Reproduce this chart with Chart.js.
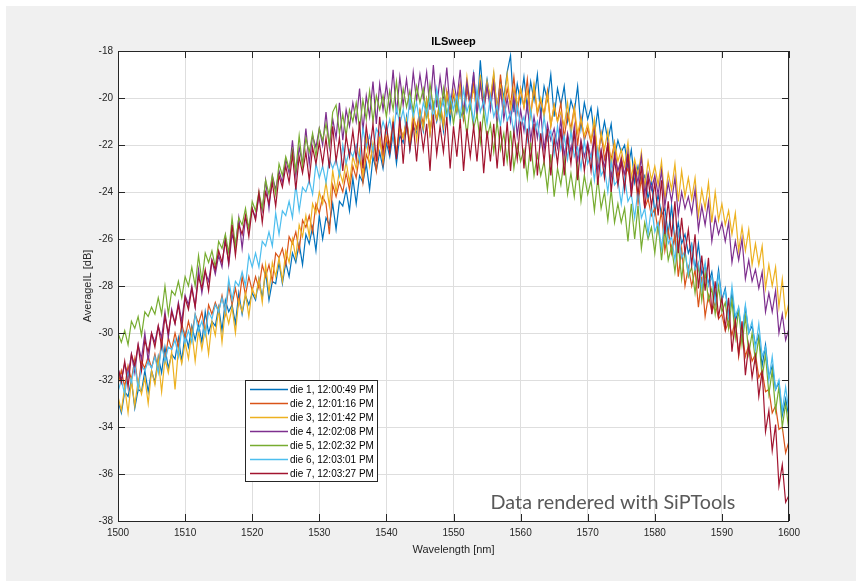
<!DOCTYPE html>
<html>
<head>
<meta charset="utf-8">
<script src="https://cdn.jsdelivr.net/npm/chart.js@4.4.1/dist/chart.umd.min.js"></script>
<style>
  html, body { margin: 0; padding: 0; background: #ffffff; }
  #wrap { position: absolute; left: 0; top: 0; width: 856px; height: 581px; }
</style>
</head>
<body>
<div id="wrap"><canvas id="ilChart" width="856" height="581"></canvas></div>
<script>
// sweep grid: 1500 .. 1600 nm, 0.5 nm step
var wlStart = 1500;
var wlStep = 0.5;

var dieLabels = ["die 1, 12:00:49 PM", "die 2, 12:01:16 PM", "die 3, 12:01:42 PM", "die 4, 12:02:08 PM",
                 "die 5, 12:02:32 PM", "die 6, 12:03:01 PM", "die 7, 12:03:27 PM"];
var dieColors = ["#0072BD", "#D95319", "#EDB120", "#7E2F8E", "#77AC30", "#4DBEEE", "#A2142F"];

var xTicks = [1500, 1510, 1520, 1530, 1540, 1550, 1560, 1570, 1580, 1590, 1600];
var yTicks = [-38, -36, -34, -32, -30, -28, -26, -24, -22, -20, -18];

// average IL [dB] per die
var die1 = [-32.9,-33.4,-32.5,-32.7,-32.0,-33.2,-32.4,-32.5,-31.6,-32.5,
-31.6,-32.1,-31.0,-31.7,-30.6,-31.5,-30.9,-31.1,-30.2,-31.2,
-30.0,-30.6,-29.7,-30.3,-29.6,-30.4,-29.1,-30.0,-29.5,-29.7,
-28.9,-29.9,-28.6,-29.1,-28.8,-29.6,-28.3,-29.2,-28.4,-28.8,
-28.3,-28.6,-27.7,-28.5,-27.4,-28.6,-27.8,-27.9,-27.0,-27.9,
-27.0,-27.6,-26.6,-27.0,-26.2,-27.1,-25.8,-26.2,-25.5,-26.5,
-25.0,-26.0,-25.1,-25.4,-24.5,-25.6,-24.4,-24.6,-23.9,-24.8,
-23.4,-24.5,-23.3,-23.6,-22.8,-23.9,-22.5,-23.1,-22.3,-23.0,
-21.9,-22.5,-21.5,-22.8,-21.6,-21.9,-20.8,-22.2,-21.2,-21.5,
-20.6,-21.4,-20.1,-21.5,-20.3,-21.0,-20.3,-21.4,-19.7,-21.0,
-19.8,-20.6,-19.5,-21.0,-19.6,-20.2,-19.0,-20.7,-18.4,-20.2,
-19.2,-20.1,-19.0,-20.5,-19.2,-20.0,-18.9,-18.2,-20.6,-19.4,
-20.2,-19.1,-20.5,-19.3,-20.1,-19.0,-20.8,-19.5,-20.1,-19.0,
-20.8,-19.6,-20.3,-19.5,-21.0,-20.1,-20.6,-19.5,-21.3,-20.2,
-20.9,-20.4,-21.6,-20.5,-21.8,-21.0,-21.8,-21.1,-22.5,-21.8,
-22.3,-22.0,-23.0,-22.2,-23.6,-22.9,-23.6,-23.3,-24.3,-23.5,
-24.9,-24.1,-25.0,-24.7,-25.8,-24.6,-26.1,-25.3,-26.2,-25.8,
-26.6,-26.2,-27.3,-26.2,-27.5,-27.1,-27.9,-27.4,-28.5,-27.3,
-28.6,-28.1,-29.3,-28.3,-29.5,-29.0,-30.1,-28.9,-30.0,-29.7,
-30.5,-30.1,-31.4,-30.5,-31.9,-31.4,-32.4,-32.1,-33.5,-32.8,
-33.6];

var die2 = [-32.2,-31.6,-32.3,-31.4,-32.0,-31.1,-32.3,-31.2,-31.5,-31.0,
-31.5,-30.9,-31.6,-30.3,-31.2,-30.2,-30.7,-30.0,-30.6,-29.6,
-30.2,-29.5,-30.1,-29.2,-29.6,-29.1,-30.0,-28.8,-29.2,-28.7,
-29.1,-28.4,-29.2,-28.0,-28.8,-28.1,-28.8,-27.6,-28.4,-27.6,
-28.2,-27.6,-28.1,-27.1,-27.6,-27.1,-27.8,-26.6,-26.8,-26.4,
-27.1,-25.9,-26.2,-25.7,-26.5,-25.2,-25.5,-25.0,-25.7,-24.5,
-24.9,-24.2,-24.5,-25.8,-23.7,-24.2,-23.6,-24.0,-23.2,-23.9,
-22.9,-23.4,-22.4,-23.6,-22.4,-22.8,-22.1,-23.1,-21.6,-22.8,
-21.7,-22.3,-21.1,-22.4,-21.2,-21.7,-21.0,-21.9,-20.8,-21.3,
-20.5,-21.1,-20.1,-21.5,-20.3,-20.9,-20.1,-21.2,-19.7,-20.6,
-19.8,-20.5,-19.4,-20.9,-19.6,-20.4,-19.4,-20.8,-19.2,-20.6,
-19.5,-20.2,-19.2,-20.7,-19.0,-20.5,-19.6,-20.3,-19.1,-20.6,
-19.6,-20.4,-19.2,-20.8,-19.5,-20.7,-20.1,-20.7,-19.7,-21.2,
-20.3,-21.0,-20.2,-21.7,-20.7,-21.3,-20.4,-22.0,-20.8,-21.8,
-21.3,-21.9,-21.1,-22.7,-21.5,-22.6,-22.0,-22.6,-21.9,-23.4,
-22.5,-23.3,-23.0,-23.8,-22.9,-24.5,-23.4,-24.7,-24.3,-25.0,
-24.7,-25.7,-24.8,-26.5,-25.6,-26.6,-25.8,-27.6,-26.4,-28.0,
-27.2,-28.0,-27.3,-28.9,-27.6,-29.3,-28.4,-29.1,-28.7,-29.4,
-29.2,-29.9,-29.5,-30.1,-29.4,-31.0,-29.9,-31.0,-30.5,-31.2,
-30.9,-31.9,-31.6,-32.5,-32.4,-33.4,-33.1,-34.1,-34.0,-35.1,
-34.6];

var die3 = [-32.7,-33.3,-32.3,-33.4,-32.0,-33.1,-32.0,-32.6,-31.9,-33.0,
-31.6,-32.2,-31.1,-32.5,-31.1,-31.7,-30.8,-32.4,-30.7,-31.3,
-30.4,-31.1,-29.9,-31.2,-29.9,-30.7,-29.8,-30.9,-29.5,-30.1,
-29.0,-30.4,-29.0,-29.6,-28.9,-30.0,-28.6,-29.1,-28.3,-29.3,
-28.1,-28.5,-27.7,-28.7,-27.1,-28.3,-27.0,-27.6,-26.8,-27.8,
-26.5,-27.0,-26.0,-26.8,-25.4,-25.9,-25.0,-25.9,-24.5,-24.9,
-24.0,-24.5,-23.6,-24.6,-23.1,-24.0,-23.1,-23.6,-22.7,-23.6,
-22.5,-23.0,-22.2,-23.3,-21.7,-22.9,-21.9,-22.5,-21.7,-22.6,
-21.4,-22.0,-20.9,-22.4,-21.2,-21.7,-20.9,-22.0,-20.5,-21.8,
-20.6,-21.3,-20.1,-21.5,-20.2,-20.9,-20.2,-21.2,-19.8,-20.5,
-19.7,-20.5,-19.5,-20.7,-19.1,-20.3,-19.6,-20.6,-19.0,-20.4,
-19.3,-20.0,-18.9,-20.6,-19.5,-20.2,-19.0,-20.5,-19.6,-20.3,
-19.6,-20.4,-19.7,-20.8,-19.4,-20.6,-20.0,-20.8,-19.8,-21.2,
-20.3,-21.0,-20.6,-21.2,-20.2,-21.6,-20.4,-21.5,-20.9,-21.6,
-21.1,-21.8,-20.9,-22.5,-21.5,-22.2,-21.4,-22.9,-21.9,-22.7,
-22.2,-22.9,-21.9,-23.4,-22.6,-23.3,-22.3,-23.8,-22.7,-23.5,
-22.9,-23.7,-22.7,-24.3,-23.2,-23.9,-22.8,-24.4,-23.1,-24.2,
-23.4,-24.3,-23.4,-25.0,-23.9,-24.7,-23.6,-25.3,-24.0,-25.2,
-24.5,-25.4,-24.8,-25.8,-24.9,-26.5,-25.5,-26.5,-25.6,-27.1,
-26.2,-27.1,-26.3,-28.1,-27.1,-28.0,-27.2,-28.9,-27.7,-29.3,
-28.7];

var die4 = [-31.5,-32.0,-31.3,-31.8,-30.9,-31.7,-30.5,-31.1,-30.0,-31.2,
-30.0,-30.4,-29.7,-30.2,-29.1,-30.2,-29.0,-29.6,-28.7,-29.5,
-28.4,-28.8,-28.0,-28.9,-27.3,-28.3,-27.4,-27.8,-26.9,-27.5,
-26.7,-27.2,-25.9,-27.1,-25.8,-26.3,-25.1,-26.4,-25.1,-25.5,
-24.7,-25.1,-24.2,-24.8,-23.5,-24.7,-23.3,-23.9,-23.1,-23.6,
-22.6,-23.2,-21.8,-23.3,-22.1,-22.8,-21.3,-22.8,-21.6,-22.1,
-21.3,-22.0,-20.6,-22.1,-20.9,-21.7,-20.2,-21.8,-20.5,-21.2,
-20.2,-21.0,-19.6,-21.4,-19.9,-20.8,-19.3,-21.1,-19.4,-20.5,
-19.4,-20.5,-18.8,-20.7,-19.1,-20.3,-19.2,-20.5,-18.9,-20.1,
-19.0,-20.0,-18.9,-20.5,-18.6,-20.4,-19.1,-20.2,-18.7,-20.5,
-19.2,-20.1,-18.8,-20.7,-19.3,-20.3,-18.9,-20.7,-19.4,-20.5,
-19.5,-20.5,-19.4,-21.2,-19.6,-20.9,-20.0,-21.0,-19.9,-21.6,
-20.5,-21.4,-20.2,-21.8,-20.8,-21.7,-20.6,-22.2,-21.1,-21.8,
-21.3,-22.1,-20.9,-22.5,-21.5,-22.3,-21.2,-22.7,-21.8,-22.5,
-21.9,-22.6,-21.5,-23.1,-22.2,-23.0,-21.9,-23.4,-22.4,-23.1,
-22.6,-23.3,-22.3,-23.9,-22.9,-23.6,-22.5,-24.1,-23.2,-23.9,
-23.3,-24.1,-23.1,-24.6,-23.6,-24.4,-23.4,-25.0,-24.0,-24.7,
-24.2,-24.9,-23.9,-25.6,-24.6,-25.4,-24.4,-26.1,-25.1,-25.8,
-25.3,-26.1,-25.3,-27.0,-26.1,-26.9,-26.0,-27.7,-26.9,-27.8,
-27.3,-28.1,-27.4,-29.1,-28.3,-29.1,-28.2,-30.0,-29.2,-30.3,
-29.8];

var die5 = [-30.0,-30.4,-29.9,-30.5,-29.5,-29.8,-29.3,-30.1,-29.1,-29.3,
-28.9,-29.2,-28.5,-29.2,-28.0,-29.2,-28.2,-28.4,-27.8,-28.5,
-27.6,-28.0,-27.2,-28.0,-26.7,-27.8,-26.6,-27.0,-26.5,-27.2,
-26.1,-26.4,-25.8,-26.6,-25.1,-26.3,-25.1,-25.4,-24.7,-25.6,
-24.4,-24.8,-24.0,-24.7,-23.5,-24.1,-23.3,-24.1,-22.8,-23.3,
-22.5,-23.0,-22.2,-23.1,-21.6,-22.9,-21.7,-22.3,-21.5,-22.5,
-21.3,-21.8,-21.1,-22.0,-20.6,-20.3,-21.5,-20.7,-21.6,-20.5,
-21.0,-20.2,-21.3,-20.1,-20.9,-19.7,-21.0,-19.9,-20.5,-19.9,
-20.8,-19.7,-20.5,-19.3,-20.7,-19.6,-20.4,-19.7,-20.6,-19.5,
-20.2,-19.6,-20.8,-19.4,-20.4,-19.8,-20.9,-19.6,-20.7,-20.1,
-21.1,-20.1,-20.9,-20.4,-21.6,-20.2,-21.3,-20.7,-21.9,-20.6,
-21.7,-21.1,-22.3,-21.0,-22.2,-21.5,-22.7,-21.4,-23.0,-22.0,
-22.7,-22.2,-23.4,-21.9,-23.3,-22.4,-23.3,-22.7,-23.9,-22.4,
-24.2,-23.0,-23.7,-22.6,-24.1,-23.2,-24.2,-22.9,-24.4,-23.3,
-24.1,-23.5,-24.8,-23.4,-24.7,-24.0,-25.2,-23.9,-25.3,-24.5,
-25.3,-24.7,-26.1,-24.5,-26.0,-24.6,-26.4,-25.3,-26.0,-25.5,
-26.6,-25.3,-26.9,-25.6,-26.9,-26.3,-27.4,-26.2,-27.7,-26.5,
-27.6,-27.2,-28.3,-27.1,-28.6,-27.4,-28.6,-28.1,-29.2,-28.0,
-29.1,-28.7,-29.8,-28.6,-30.2,-29.0,-30.5,-29.3,-30.9,-30.0,
-31.2,-30.2,-31.9,-30.9,-32.6,-31.6,-33.3,-32.3,-34.0,-33.0,
-34.2];

var die6 = [-32.5,-32.0,-32.6,-31.7,-32.1,-31.3,-32.4,-31.4,-31.6,-31.2,
-31.5,-31.0,-31.7,-30.5,-31.2,-30.6,-30.7,-30.3,-31.0,-29.8,
-30.4,-29.9,-30.4,-29.2,-29.9,-29.5,-30.1,-29.1,-29.4,-28.8,
-29.1,-28.5,-29.1,-27.7,-28.6,-27.8,-28.0,-27.4,-28.0,-26.7,
-27.2,-26.6,-27.2,-26.1,-26.3,-25.7,-26.3,-24.9,-25.8,-24.8,
-25.0,-24.4,-25.1,-23.7,-24.8,-23.8,-24.0,-23.5,-24.1,-22.8,
-23.4,-22.9,-23.6,-22.6,-23.0,-22.6,-23.3,-22.0,-22.8,-22.2,
-22.5,-22.0,-22.7,-21.3,-22.1,-21.6,-22.3,-21.3,-21.6,-21.0,
-21.5,-20.9,-21.7,-20.4,-21.1,-20.5,-21.4,-20.0,-20.8,-20.2,
-21.1,-20.2,-20.7,-20.0,-20.9,-19.6,-20.6,-20.1,-20.9,-19.9,
-20.5,-19.9,-20.8,-19.6,-20.6,-20.1,-21.0,-19.6,-20.6,-20.1,
-21.1,-19.9,-20.8,-20.3,-21.2,-20.0,-21.0,-20.6,-21.5,-20.3,
-21.2,-20.8,-21.8,-20.5,-21.5,-21.0,-22.0,-20.8,-21.8,-21.4,
-22.4,-21.2,-22.2,-21.6,-22.6,-21.4,-22.5,-22.1,-23.0,-21.8,
-22.8,-22.4,-23.5,-22.2,-23.3,-23.0,-24.0,-22.7,-23.7,-23.5,
-24.5,-23.4,-24.4,-24.1,-25.1,-23.9,-25.1,-24.7,-25.8,-24.6,
-25.7,-25.3,-26.4,-25.1,-26.2,-25.9,-26.9,-25.7,-26.8,-26.5,
-27.5,-26.3,-27.3,-27.0,-28.1,-27.0,-28.0,-27.6,-28.7,-27.5,
-28.6,-28.2,-29.3,-28.0,-29.3,-28.9,-30.0,-28.8,-30.0,-29.5,
-30.7,-29.6,-31.0,-30.6,-32.0,-31.0,-32.4,-32.0,-33.3,-32.3,
-33.4];

var die7 = [-31.5,-32.1,-31.2,-32.3,-30.9,-31.4,-30.5,-31.6,-30.3,-30.8,
-30.0,-30.6,-29.7,-30.6,-29.3,-30.0,-29.1,-29.6,-28.8,-29.8,
-28.5,-29.0,-28.1,-28.9,-27.6,-28.1,-27.3,-28.2,-26.9,-27.3,
-26.5,-27.0,-26.1,-27.0,-25.4,-26.7,-25.4,-25.8,-25.0,-25.9,
-24.7,-25.2,-24.0,-25.3,-24.0,-24.5,-23.6,-24.6,-23.3,-23.8,
-22.9,-23.6,-22.4,-23.9,-22.5,-23.2,-22.3,-23.5,-22.1,-22.8,
-21.9,-22.8,-21.7,-23.0,-21.2,-22.7,-21.7,-23.1,-21.6,-22.5,
-21.4,-22.6,-21.0,-23.0,-21.2,-22.3,-21.1,-22.7,-20.8,-22.3,
-21.1,-22.3,-21.0,-22.6,-20.8,-22.8,-21.0,-22.2,-21.1,-22.7,
-21.0,-22.2,-21.1,-23.1,-20.7,-22.4,-21.2,-22.3,-20.8,-23.0,
-21.2,-22.5,-20.9,-23.1,-21.3,-22.5,-21.2,-22.7,-21.0,-23.2,
-21.4,-22.7,-21.1,-23.0,-21.2,-22.9,-21.0,-23.1,-21.4,-22.6,
-21.0,-23.0,-21.3,-22.7,-21.1,-23.3,-21.5,-22.7,-21.3,-23.3,
-21.7,-22.8,-21.3,-23.3,-21.7,-22.8,-21.4,-23.5,-21.9,-23.1,
-22.0,-23.1,-21.6,-23.7,-22.3,-23.4,-21.9,-24.0,-22.6,-23.7,
-22.7,-23.9,-22.4,-24.2,-23.0,-24.1,-22.9,-24.7,-23.4,-24.6,
-23.6,-25.0,-23.5,-25.8,-24.4,-25.9,-24.4,-26.6,-25.1,-26.6,
-25.6,-27.1,-25.8,-28.1,-26.7,-28.2,-26.8,-29.2,-27.8,-29.3,
-28.5,-29.8,-28.5,-30.8,-29.5,-30.9,-29.5,-31.8,-30.5,-31.9,
-31.0,-32.7,-31.6,-34.2,-33.3,-35.0,-33.9,-36.5,-35.6,-37.2,
-36.9];

var dieValues = [die1, die2, die3, die4, die5, die6, die7];

var datasets = [];
for (var i = 0; i < dieValues.length; i++) {
    datasets.push({
        label: dieLabels[i],
        data: dieValues[i].map(function (v, k) { return { x: wlStart + k * wlStep, y: v }; }),
        borderColor: dieColors[i],
        borderWidth: 1.2,
        pointRadius: 0,
        fill: false,
        tension: 0,
        order: dieValues.length - i   // die 7 ends up on top, like the original
    });
}

var axisColor = "#262626";
var fontFam = "'Liberation Sans', Arial, Helvetica, sans-serif";

// grey figure, white axes, box with inward ticks, title, legend, watermark
var matlabLook = {
    id: "matlabLook",
    beforeDraw: function (chart) {
        var c = chart.ctx, a = chart.chartArea;
        c.save();
        c.fillStyle = "#ffffff";
        c.fillRect(0, 0, chart.width, chart.height);
        c.fillStyle = "#f0f0f0";
        c.fillRect(6, 6, chart.width - 6, chart.height - 6);
        c.fillStyle = "#ffffff";
        c.fillRect(a.left, a.top, a.right - a.left, a.bottom - a.top);
        c.restore();
    },
    afterDraw: function (chart) {
        var c = chart.ctx, a = chart.chartArea;
        var xs = chart.scales.x, ys = chart.scales.y;
        c.save();
        c.strokeStyle = axisColor;
        c.lineWidth = 1;
        c.strokeRect(a.left + 0.5, a.top + 0.5, a.right - a.left - 1, a.bottom - a.top);
        c.beginPath();
        xTicks.forEach(function (t) {
            var px = Math.round(xs.getPixelForValue(t)) + 0.5;
            c.moveTo(px, a.bottom); c.lineTo(px, a.bottom - 7);
            c.moveTo(px, a.top); c.lineTo(px, a.top + 7);
        });
        yTicks.forEach(function (t) {
            var py = Math.round(ys.getPixelForValue(t)) + 0.5;
            c.moveTo(a.left, py); c.lineTo(a.left + 7, py);
            c.moveTo(a.right, py); c.lineTo(a.right - 7, py);
        });
        c.stroke();

        // title
        c.fillStyle = "#000000";
        c.font = "bold 11px " + fontFam;
        c.textAlign = "center";
        c.textBaseline = "middle";
        c.fillText("ILSweep", (a.left + a.right) / 2, 42);

        // legend box
        var lx = 245, ly = 380, lw = 132, lh = 101;
        c.fillStyle = "#ffffff";
        c.fillRect(lx, ly, lw, lh);
        c.strokeStyle = axisColor;
        c.lineWidth = 1;
        c.strokeRect(lx + 0.5, ly + 0.5, lw, lh);
        c.font = "10px " + fontFam;
        c.textAlign = "left";
        dieLabels.forEach(function (lab, k) {
            var yy = ly + 9.5 + k * 14;
            c.strokeStyle = dieColors[k];
            c.lineWidth = 1.5;
            c.beginPath();
            c.moveTo(lx + 5, yy); c.lineTo(lx + 43, yy);
            c.stroke();
            c.fillStyle = "#000000";
            c.fillText(lab, lx + 45, yy + 0.5);
        });

        // watermark
        var wm = "Data rendered with SiPTools";
        var fs = 18;
        c.font = fs + "px Lato, 'Open Sans', sans-serif";
        fs = fs * 245 / c.measureText(wm).width;
        c.font = fs + "px Lato, 'Open Sans', sans-serif";
        c.fillStyle = "#595959";
        c.textAlign = "center";
        c.fillText(wm, 613, 503);
        c.restore();
    }
};

new Chart("ilChart", {
    type: "line",
    data: { datasets: datasets },
    options: {
        responsive: false,
        animation: false,
        devicePixelRatio: 1,
        layout: { padding: { left: 78, right: 67, top: 51, bottom: 20 } },
        plugins: {
            legend: { display: false },
            title: { display: false },
            tooltip: { enabled: false }
        },
        scales: {
            x: {
                type: "linear",
                min: 1500,
                max: 1600,
                afterFit: function (s) { s.height = 40; },
                afterBuildTicks: function (s) { s.ticks = xTicks.map(function (v) { return { value: v }; }); },
                ticks: { color: axisColor, font: { family: fontFam, size: 10 }, padding: 6, maxRotation: 0,
                         callback: function (v) { return String(v); } },
                grid: { color: "#dedede", drawTicks: false },
                border: { display: false },
                title: { display: true, text: "Wavelength [nm]", color: axisColor,
                         font: { family: fontFam, size: 11 }, padding: { top: 0, bottom: 4 } }
            },
            y: {
                min: -38,
                max: -18,
                afterFit: function (s) { s.width = 40; },
                afterBuildTicks: function (s) { s.ticks = yTicks.map(function (v) { return { value: v }; }); },
                ticks: { color: axisColor, font: { family: fontFam, size: 10 }, padding: 5,
                         callback: function (v) { return String(v); } },
                grid: { color: "#dedede", drawTicks: false },
                border: { display: false },
                title: { display: true, text: "AverageIL [dB]", color: axisColor,
                         font: { family: fontFam, size: 11 }, padding: { top: 3, bottom: 0 } }
            }
        }
    },
    plugins: [matlabLook]
});
</script>
</body>
</html>
